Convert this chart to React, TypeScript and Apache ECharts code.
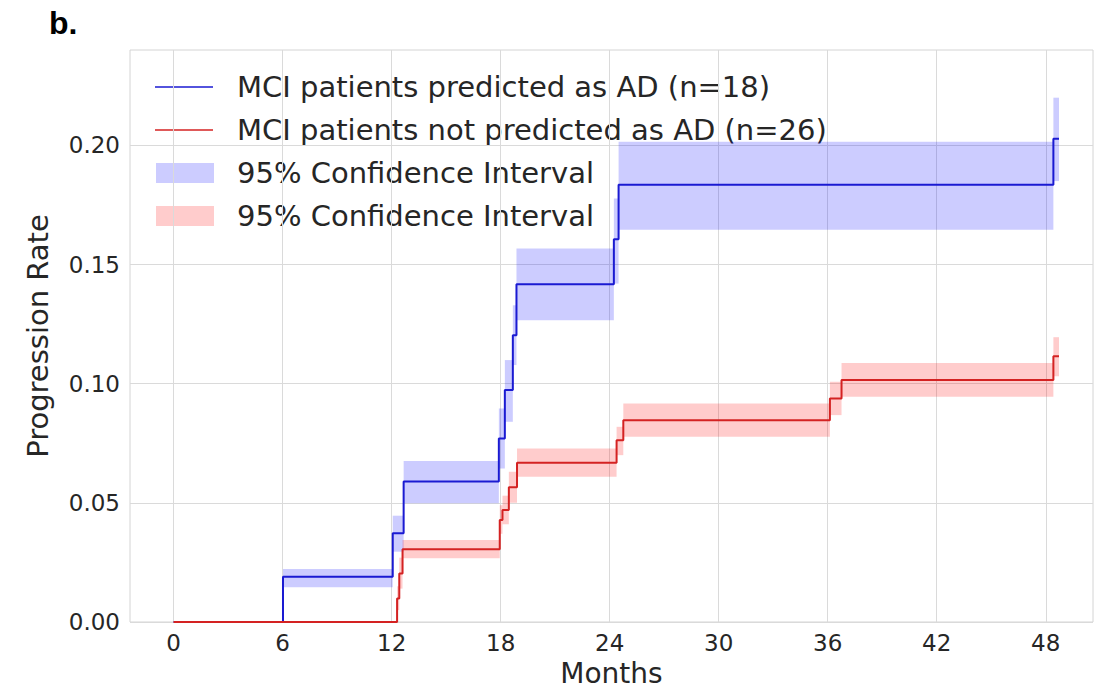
import React, { useEffect, useRef } from "react";
import * as echarts from "echarts";

// Axis ticks
const monthTicks = [0, 6, 12, 18, 24, 30, 36, 42, 48];
const rateTicks = [0, 0.05, 0.1, 0.15, 0.2];

// Kaplan-Meier style cumulative progression, MCI predicted as AD (n=18)
const adTimes = [0, 6.02, 12.06, 12.66, 17.9, 18.23, 18.67, 18.87, 24.23, 24.49, 48.42, 48.73];
const adRates = [0, 0.019, 0.0372, 0.059, 0.077, 0.0973, 0.1203, 0.1417, 0.1606, 0.1835, 0.2028, 0.2028];
const adLow = [0, 0.0146, 0.0295, 0.0498, 0.0644, 0.084, 0.1078, 0.1266, 0.142, 0.1646, 0.185, 0.185];
const adHigh = [0, 0.0222, 0.0446, 0.0676, 0.0896, 0.1099, 0.1329, 0.1567, 0.1777, 0.2015, 0.22, 0.22];

// MCI not predicted as AD (n=26)
const nonTimes = [0, 12.3, 12.42, 12.6, 17.95, 18.1, 18.45, 18.9, 24.38, 24.75, 36.12, 36.76, 48.42, 48.73];
const nonRates = [0, 0.0099, 0.0204, 0.0305, 0.0428, 0.047, 0.0565, 0.0668, 0.0763, 0.0847, 0.0938, 0.1015, 0.1115, 0.1115];
const nonLow = [0, 0.005, 0.014, 0.0267, 0.037, 0.041, 0.05, 0.0609, 0.07, 0.0777, 0.0868, 0.0945, 0.1031, 0.1031];
const nonHigh = [0, 0.015, 0.027, 0.0344, 0.049, 0.053, 0.063, 0.0728, 0.0819, 0.0917, 0.1008, 0.1087, 0.1195, 0.1195];

const labels = [
  "MCI patients predicted as AD (n=18)",
  "MCI patients not predicted as AD (n=26)",
  "95% Confidence Interval",
  "95% Confidence Interval",
];

const BLUE = "#1a1ad2";
const RED = "#d42222";
const BLUE_FILL = "rgba(0,0,255,0.2)";
const RED_FILL = "rgba(255,0,0,0.2)";
const FONT = "DejaVu Sans";
const TEXT = "#262626";

const stepPoints = (t: number[], r: number[]) => t.map((x, i) => [x, r[i]]);
const bandSegments = (t: number[], lo: number[], hi: number[]) =>
  t.slice(0, -1).map((x, i) => [x, t[i + 1], lo[i], hi[i]]);

const bandSeries = (name: string, data: number[][], fill: string) => ({
  name,
  type: "custom",
  z: 1,
  data,
  encode: { x: [0, 1], y: [2, 3] },
  renderItem: (_p: any, api: any) => {
    const a = api.coord([api.value(0), api.value(3)]);
    const b = api.coord([api.value(1), api.value(2)]);
    return {
      type: "rect",
      shape: { x: a[0], y: a[1], width: b[0] - a[0], height: b[1] - a[1] },
      style: { fill },
    };
  },
});

export default function App() {
  const ref = useRef<HTMLDivElement>(null);

  useEffect(() => {
    if (!ref.current) return;
    const chart = echarts.init(ref.current, null, { renderer: "svg" });

    const legendRows = [87, 130, 173, 216];
    const legendGraphics: any[] = [];
    legendGraphics.push({
      type: "line",
      shape: { x1: 155, y1: legendRows[0], x2: 213, y2: legendRows[0] },
      style: { stroke: BLUE, lineWidth: 1.6 },
    });
    legendGraphics.push({
      type: "line",
      shape: { x1: 155, y1: legendRows[1], x2: 213, y2: legendRows[1] },
      style: { stroke: RED, lineWidth: 1.6 },
    });
    legendGraphics.push({
      type: "rect",
      shape: { x: 156, y: legendRows[2] - 10, width: 58, height: 20 },
      style: { fill: BLUE_FILL },
    });
    legendGraphics.push({
      type: "rect",
      shape: { x: 156, y: legendRows[3] - 10, width: 58, height: 20 },
      style: { fill: RED_FILL },
    });
    labels.forEach((txt, i) => {
      legendGraphics.push({
        type: "text",
        x: 237,
        y: legendRows[i],
        style: {
          text: txt,
          font: `29px '${FONT}'`,
          fill: TEXT,
          verticalAlign: "middle",
        },
      });
    });
    legendGraphics.push({
      type: "text",
      x: 49,
      y: 23,
      style: {
        text: "b.",
        font: "bold 32px 'Liberation Sans'",
        fill: "#000",
        verticalAlign: "middle",
      },
    });

    chart.setOption({
      animation: false,
      backgroundColor: "#fff",
      grid: {
        left: 130,
        top: 50,
        right: 11,
        bottom: 69,
        show: true,
        borderColor: "#d4d4d4",
        borderWidth: 1,
        containLabel: false,
        outerBoundsMode: "none",
      },
      xAxis: {
        type: "value",
        min: -2.4,
        max: 50.6,
        name: "Months",
        nameLocation: "middle",
        nameGap: 35,
        nameTextStyle: { fontFamily: FONT, fontSize: 28, color: TEXT, lineHeight: 30 },
        axisLine: { show: false },
        axisTick: { show: false, customValues: monthTicks },
        axisLabel: {
          customValues: monthTicks,
          fontFamily: FONT,
          fontSize: 23,
          color: TEXT,
          margin: 9,
        },
        splitLine: { show: true, lineStyle: { color: "#dadada", width: 1 } },
      },
      yAxis: {
        type: "value",
        min: 0,
        max: 0.24,
        name: "Progression Rate",
        nameLocation: "middle",
        nameGap: 78,
        nameTextStyle: { fontFamily: FONT, fontSize: 29, color: TEXT },
        axisLine: { show: false },
        axisTick: { show: false, customValues: rateTicks },
        axisLabel: {
          customValues: rateTicks,
          formatter: (v: number) => v.toFixed(2),
          fontFamily: FONT,
          fontSize: 23,
          color: TEXT,
          margin: 10,
        },
        splitLine: { show: true, lineStyle: { color: "#dadada", width: 1 } },
      },
      graphic: legendGraphics,
      series: [
        bandSeries("95% Confidence Interval (AD)", bandSegments(adTimes, adLow, adHigh), BLUE_FILL),
        bandSeries("95% Confidence Interval (non-AD)", bandSegments(nonTimes, nonLow, nonHigh), RED_FILL),
        {
          name: labels[0],
          type: "line",
          step: "end",
          z: 3,
          symbol: "none",
          data: stepPoints(adTimes, adRates),
          lineStyle: { color: BLUE, width: 2 },
        },
        {
          name: labels[1],
          type: "line",
          step: "end",
          z: 4,
          symbol: "none",
          data: stepPoints(nonTimes, nonRates),
          lineStyle: { color: RED, width: 2 },
        },
      ],
    });

    return () => chart.dispose();
  }, []);

  return (
    <div
      ref={ref}
      style={{ position: "absolute", left: 0, top: 0, width: 1104, height: 691 }}
    />
  );
}
